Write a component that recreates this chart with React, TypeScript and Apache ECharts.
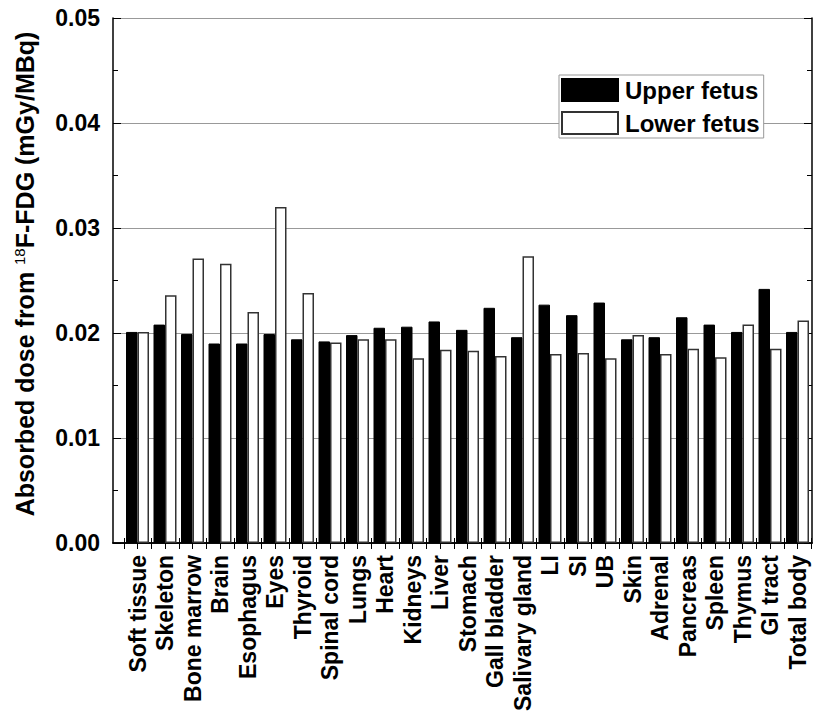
import React, { useEffect, useRef } from "react";
import * as echarts from "echarts";

const categories = [
  "Soft tissue", "Skeleton", "Bone marrow", "Brain", "Esophagus", "Eyes", "Thyroid",
  "Spinal cord", "Lungs", "Heart", "Kidneys", "Liver", "Stomach", "Gall bladder",
  "Salivary gland", "LI", "SI", "UB", "Skin", "Adrenal", "Pancreas", "Spleen",
  "Thymus", "GI tract", "Total body",
];
const upperFetus = [
  0.0201, 0.0208, 0.0199, 0.0190, 0.0190, 0.0199, 0.0194, 0.0192, 0.0198, 0.0205,
  0.0206, 0.0211, 0.0203, 0.0224, 0.0196, 0.0227, 0.0217, 0.0229, 0.0194, 0.0196,
  0.0215, 0.0208, 0.0201, 0.0242, 0.0201,
];
const lowerFetus = [
  0.0201, 0.0236, 0.0271, 0.0266, 0.0220, 0.0320, 0.0238, 0.0191, 0.0194, 0.0194,
  0.0176, 0.0184, 0.0183, 0.0178, 0.0273, 0.0180, 0.0181, 0.0176, 0.0198, 0.0180,
  0.0185, 0.0177, 0.0208, 0.0185, 0.0212,
];
const yTicks = [0, 0.01, 0.02, 0.03, 0.04, 0.05];

const FONT = "'Liberation Sans', Arial, Helvetica, sans-serif";

export default function App() {
  const ref = useRef<HTMLDivElement>(null);
  useEffect(() => {
    if (!ref.current) return;
    const chart = echarts.init(ref.current, undefined, { renderer: "svg" });
    const positions = categories.map((_, i) => i + 1);
    const halfSteps = [0, ...positions].map((p) => p + 0.5);
    const topTicks: number[] = [];
    for (let v = 0.5; v <= 25.5; v += 0.5) topTicks.push(v);
    const axisLine = { show: true, lineStyle: { color: "#000", width: 1.5 } };
    const option: any = {
      animation: false,
      backgroundColor: "#fff",
      grid: { left: 113, right: 5, top: 18, bottom: 185 },
      legend: {
        orient: "vertical",
        left: 559,
        top: 75,
        padding: [3, 4, 3, 2],
        itemGap: 9,
        itemWidth: 56,
        itemHeight: 22,
        borderColor: "#999",
        borderWidth: 1,
        backgroundColor: "#fff",
        icon: "rect",
        textStyle: { fontFamily: FONT, fontWeight: "bold", fontSize: 24, color: "#000", padding: [0, 0, 0, 2] },
        data: ["Upper fetus", "Lower fetus"],
      },
      xAxis: [
        {
          type: "value",
          position: "bottom",
          min: 0.109,
          max: 25.527,
          axisLine,
          splitLine: { show: false },
          axisTick: { show: true, inside: true, length: 5, customValues: halfSteps, lineStyle: { color: "#000" } },
          axisLabel: {
            show: true,
            customValues: positions,
            rotate: 90,
            margin: 12,
            fontFamily: FONT,
            fontWeight: "bold",
            fontSize: 23,
            color: "#000",
            formatter: (v: number) => categories[Math.round(v) - 1] ?? "",
          },
        },
        {
          type: "value",
          position: "top",
          min: 0.109,
          max: 25.527,
          axisLine,
          splitLine: { show: false },
          axisTick: { show: true, inside: true, length: 6, customValues: topTicks, lineStyle: { color: "#000" } },
          axisLabel: { show: false },
        },
      ],
      yAxis: [
        {
          type: "value",
          position: "left",
          min: 0,
          max: 0.05,
          interval: 0.01,
          axisLine,
          axisTick: { show: true, inside: true, length: 8, lineStyle: { color: "#000" } },
          minorTick: { show: true, splitNumber: 2, length: 5, lineStyle: { color: "#000" } },
          splitLine: { show: true, lineStyle: { color: "#999", width: 1 } },
          axisLabel: {
            margin: 13,
            fontFamily: FONT,
            fontWeight: "bold",
            fontSize: 23,
            color: "#000",
            formatter: (v: number) => {
              const t = yTicks.find((x) => Math.abs(x - v) < 1e-9);
              return (t ?? v).toFixed(2);
            },
          },
        },
        {
          type: "value",
          position: "right",
          min: 0,
          max: 0.05,
          interval: 0.01,
          axisLine,
          axisTick: { show: true, inside: true, length: 8, lineStyle: { color: "#000" } },
          minorTick: { show: true, splitNumber: 2, length: 5, lineStyle: { color: "#000" } },
          splitLine: { show: false },
          axisLabel: { show: false },
        },
      ],
      series: [
        {
          name: "Upper fetus",
          type: "bar",
          xAxisIndex: 0,
          yAxisIndex: 0,
          barWidth: 11.5,
          barGap: "0%",
          itemStyle: { color: "#000", borderColor: "#000", borderWidth: 1 },
          data: upperFetus.map((v, i) => [positions[i], v]),
        },
        {
          name: "Lower fetus",
          type: "bar",
          xAxisIndex: 0,
          yAxisIndex: 0,
          barWidth: 11.5,
          barGap: "0%",
          itemStyle: { color: "#fff", borderColor: "#333", borderWidth: 1.5 },
          data: lowerFetus.map((v, i) => [positions[i], v]),
        },
      ],
      graphic: [
        {
          type: "text",
          x: 25,
          y: 274,
          rotation: Math.PI / 2,
          style: {
            text: "Absorbed dose from {sup|18}F-FDG (mGy/MBq)",
            fontFamily: FONT,
            fontWeight: "bold",
            fontSize: 25,
            fill: "#000",
            align: "center",
            verticalAlign: "middle",
            rich: {
              sup: { fontFamily: FONT, fontSize: 15, fill: "#000", padding: [0, 0, 12, 0] },
            },
          },
        },
      ],
    };
    chart.setOption(option);
    return () => chart.dispose();
  }, []);
  return (
    <div
      ref={ref}
      style={{ position: "fixed", left: 0, top: 0, width: 817, height: 728 }}
    />
  );
}
